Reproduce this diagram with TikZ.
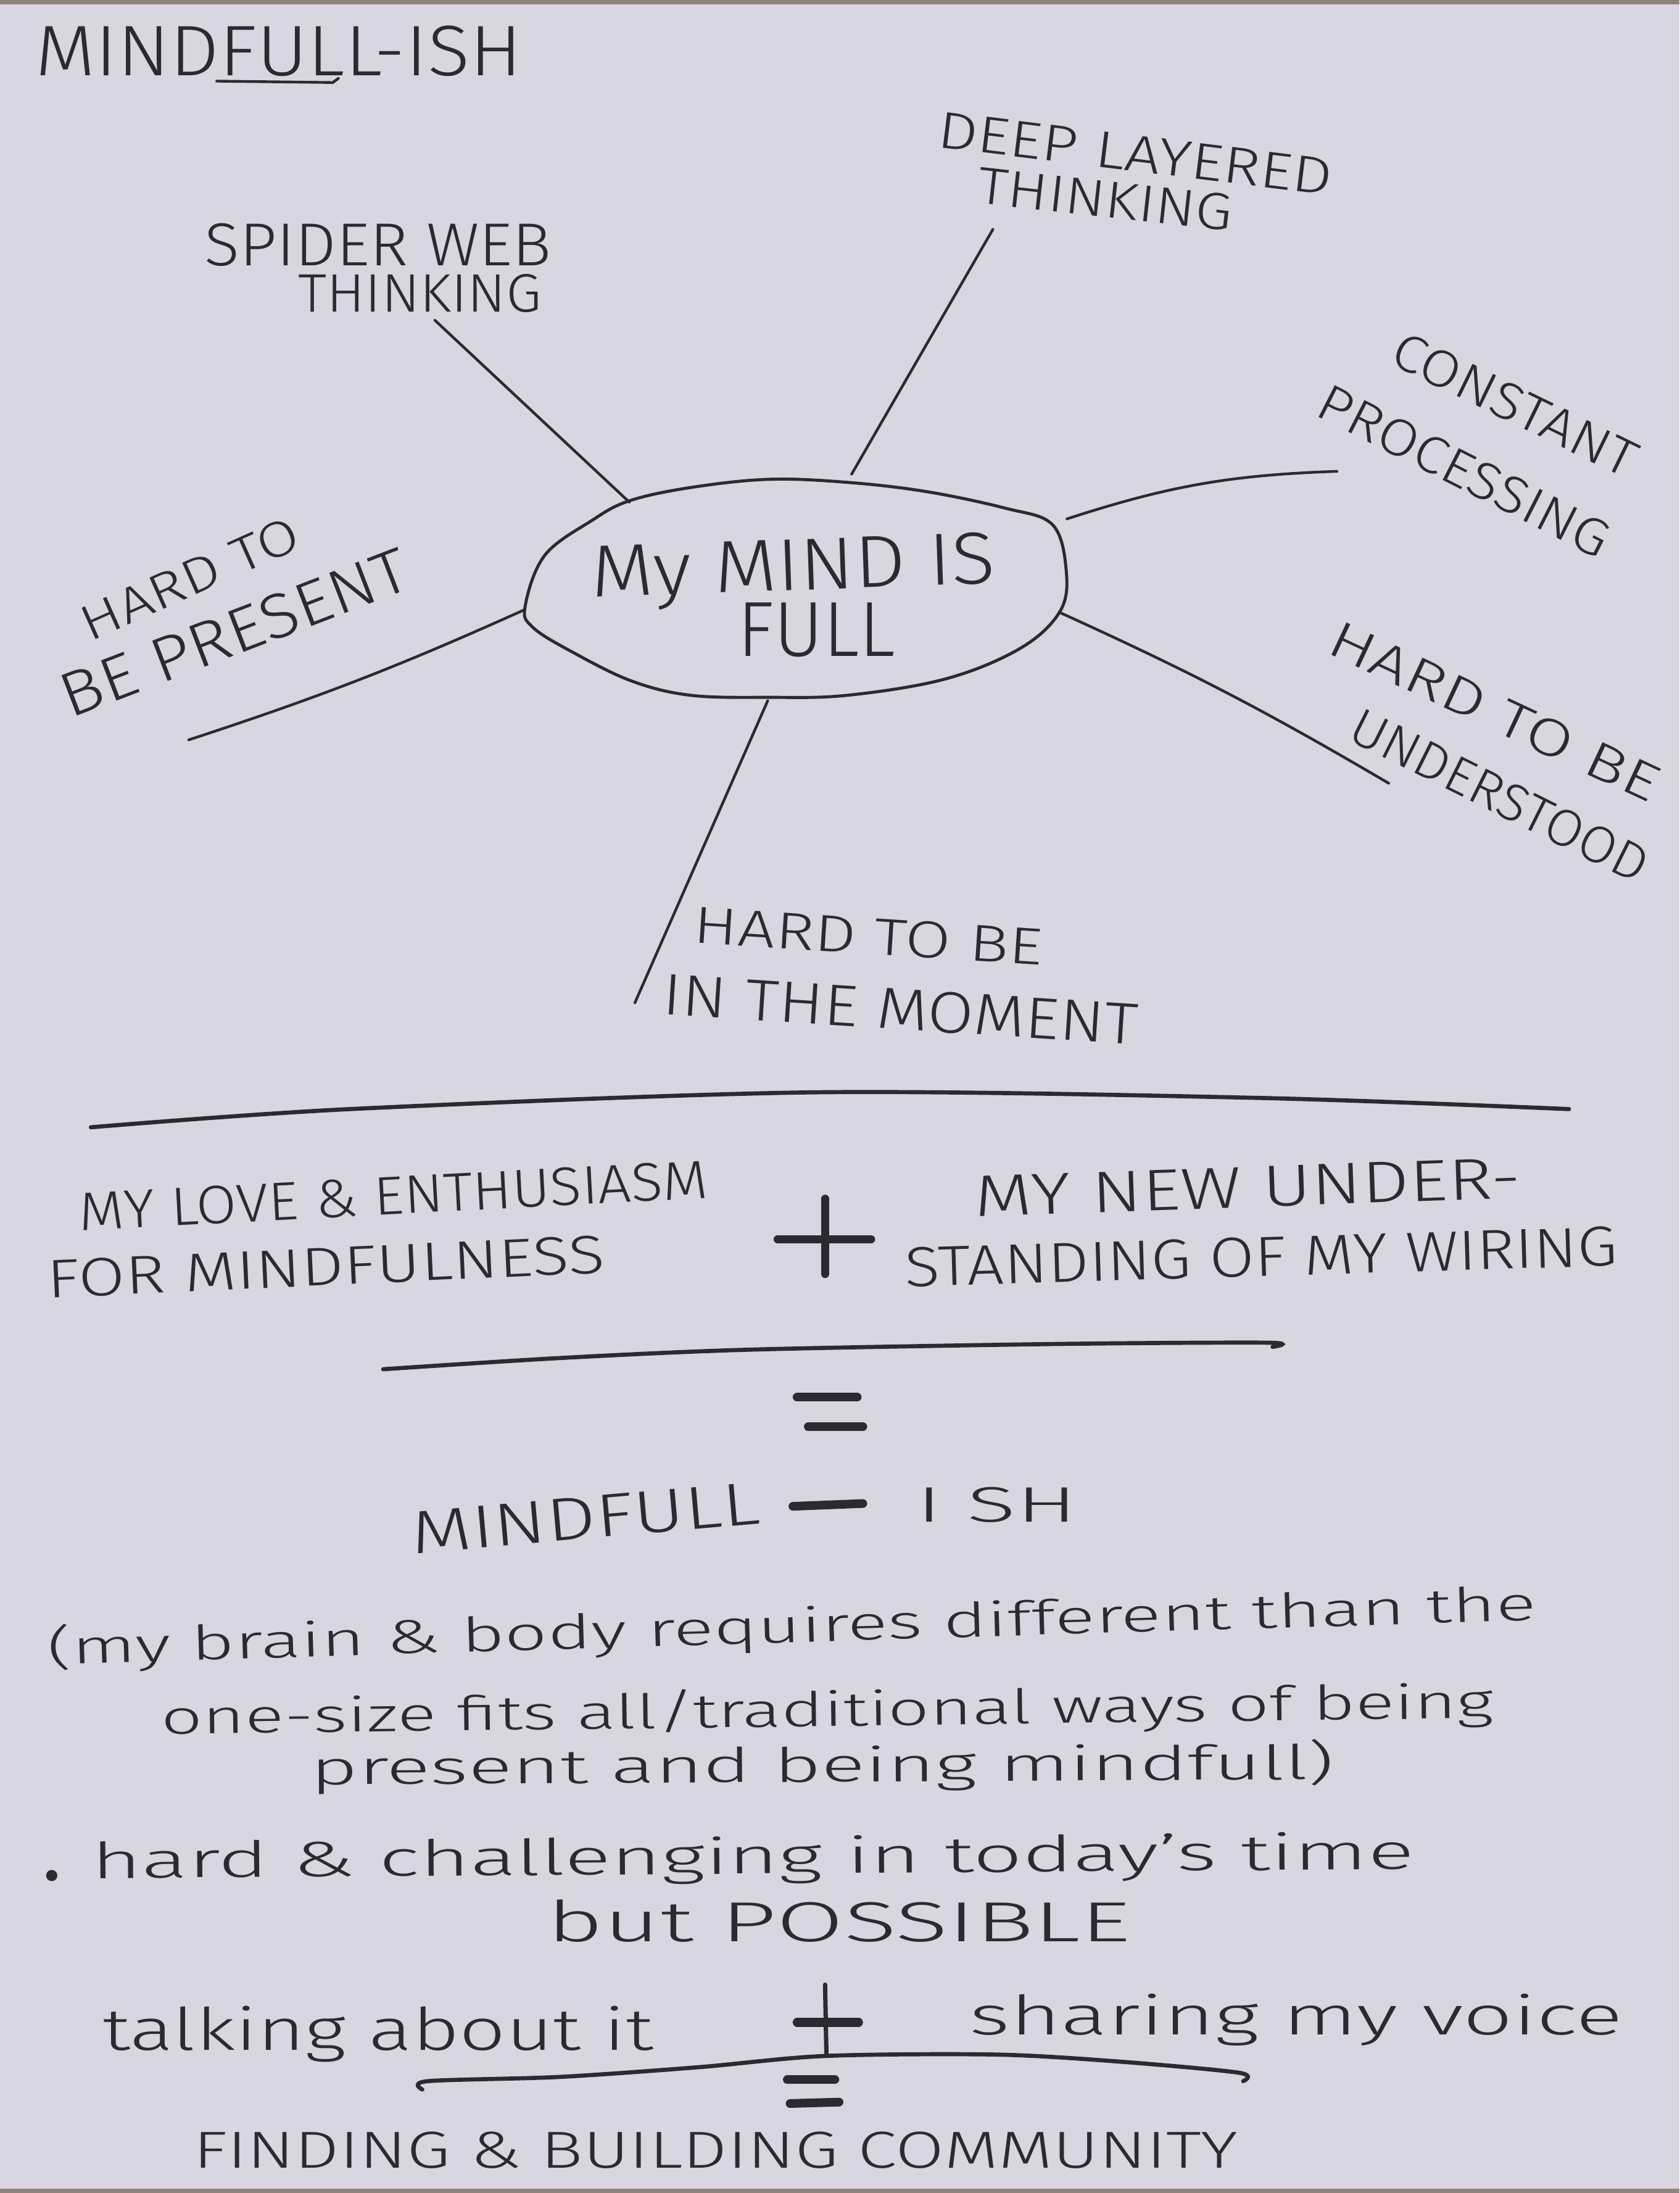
\documentclass[tikz,border=0pt]{standalone}
\usepackage{fontspec}
\setmainfont{Fira Sans}[UprightFont={* Light}]
\usepackage{graphicx}
\newdimen\pxu \pxu=0.6448pt
\newcommand\hw[3]{{\fontsize{#2}{#2}\selectfont\resizebox{#1\pxu}{\height}{#3}}}
\definecolor{paper}{HTML}{D7D6E1}
\definecolor{ink}{HTML}{2D2932}
\definecolor{edge}{HTML}{8E847E}
\begin{document}
\begin{tikzpicture}[x=0.6448pt,y=-0.6448pt,
  lbl/.style={inner sep=0pt, anchor=base west, text=ink},
  pen/.style={draw=ink, line width=1.25pt, line cap=round, line join=round},
  bold/.style={draw=ink, line width=4pt, line cap=round},
  divider/.style={draw=ink, line width=1.9pt, line cap=round}]
\useasboundingbox (0,0) rectangle (1201,1568);
\fill[paper] (0,0) rectangle (1201,1568);
\fill[edge] (0,0) rectangle (1201,3);
\fill[edge] (0,1565) rectangle (1201,1568);

% title
\node[lbl] (title) at (25,54) {\hw{348}{33}{MINDFULL-ISH}};
\draw[pen] (155,58) -- (238,59) -- (242,56);

% central shape
\coordinate (mind) at (568,421);
\draw[pen, line width=1.4pt] plot[smooth cycle, tension=0.6] coordinates {
 (375.5,433.7) (389.5,397.1) (423.3,372.1) (450.0,358.1) (493.7,348.6)
 (549.9,342.7) (606.2,344.9) (662.5,351.5) (718.7,363.3) (752.5,375.0)
 (762.4,407.4) (758.2,436.8) (730.0,463.3) (676.6,485.3) (606.2,497.1)
 (549.9,498.6) (493.7,497.1) (451.4,486.8) (409.3,466.2) (381.1,448.6)};
\node[lbl, rotate=2] (mind1) at (423,427) {\hw{289}{34}{My MIND IS}};
\node[lbl] (mind2) at (527,469) {\hw{113}{36}{FULL}};

% spoke ends
\coordinate (spA) at (450,359);  \coordinate (spB) at (311,229);
\coordinate (dpA) at (609,339);  \coordinate (dpB) at (710,164);
\coordinate (cpA) at (763,371);  \coordinate (cpB) at (956,337);
\coordinate (upA) at (758,438);  \coordinate (upB) at (993,560);
\coordinate (mpA) at (549,501);  \coordinate (mpB) at (454,717);
\coordinate (ppA) at (375,436);  \coordinate (ppB) at (135,529);
\draw[pen] (spA) -- (spB);
\draw[pen] (dpA) -- (dpB);
\draw[pen] (cpA) to[bend left=8] (cpB);
\draw[pen] (upA) to[bend left=3] (upB);
\draw[pen] (mpA) -- (mpB);
\draw[pen] (ppA) to[bend left=3] (ppB);

% spoke labels
\node[lbl] (spl1) at (146,190) {\hw{248}{28}{SPIDER WEB}};
\node[lbl] (spl2) at (213,223) {\hw{174}{25}{THINKING}};
\node[lbl, rotate=-7] (dpl1) at (669,105) {\hw{284}{24}{DEEP LAYERED}};
\node[lbl, rotate=-6.3] (dpl2) at (698,145) {\hw{183}{24}{THINKING}};
\node[lbl, rotate=-26] (cpl1) at (992,259) {\hw{190}{24}{CONSTANT}};
\node[lbl, rotate=-27] (cpl2) at (939,296) {\hw{229}{24}{PROCESSING}};
\node[lbl, rotate=-25] (upl1) at (947,466) {\hw{256}{24}{HARD TO BE}};
\node[lbl, rotate=-26.5] (upl2) at (962,528) {\hw{233}{24}{UNDERSTOOD}};
\node[lbl, rotate=-3.7] (mpl1) at (495,674) {\hw{250}{24}{HARD TO BE}};
\node[lbl, rotate=-3.7] (mpl2) at (473,725) {\hw{340}{27}{IN THE MOMENT}};
\node[lbl, rotate=24] (ppl1) at (64,459) {\hw{167}{23}{HARD TO}};
\node[lbl, rotate=21] (ppl2) at (50,514) {\hw{263}{29}{BE PRESENT}};

% first divider
\draw[divider] plot[smooth, tension=0.5] coordinates {(65,806) (250,793) (582,781) (900,785) (1122,793)};

% equation
\node[lbl, rotate=3] (love1) at (57,880) {\hw{450}{25}{MY LOVE \& ENTHUSIASM}};
\node[lbl, rotate=2.6] (love2) at (34,928) {\hw{399}{25}{FOR MINDFULNESS}};
\node[lbl, rotate=2] (new1) at (697,870) {\hw{391}{27}{MY NEW UNDER-}};
\node[lbl, rotate=1.7] (new2) at (647,920) {\hw{510}{26}{STANDING OF MY WIRING}};
\draw[bold, line width=3.6pt] (590,857) -- (590,911);
\draw[bold, line width=3.6pt] (556,886) -- (623,886);

\draw[divider] plot[smooth, tension=0.5] coordinates {(274,979) (400,971) (536,965) (750,961) (906,960) (910,963)};

\draw[bold] (570,999) -- (613,999);
\draw[bold] (578,1020) -- (617,1020);

\node[lbl, rotate=5] (res1) at (295,1111) {\hw{250}{28}{MINDFULL}};
\draw[bold] (567,1077) -- (617,1075);
\node[lbl] (res2) at (655,1088) {\hw{115}{23}{I SH}};

% explanation
\node[lbl, rotate=1.7] (p1) at (34,1190) {\hw{1065}{22}{(my brain \& body requires different than the}};
\node[lbl, rotate=0.7] (p2) at (115,1240) {\hw{953}{22}{one-size fits all/traditional ways of being}};
\node[lbl, rotate=0.3] (p3) at (222,1276) {\hw{732}{22}{present and being mindfull)}};
\fill[ink] (37,1341) circle (4);
\node[lbl, rotate=0.4] (p4) at (65,1343) {\hw{946}{23}{hard \& challenging in today's time}};
\node[lbl] (p5) at (391,1388) {\hw{417}{26}{but POSSIBLE}};

% final equation
\node[lbl] (talk) at (73,1466) {\hw{394}{27}{talking about it}};
\node[lbl] (share) at (693,1455) {\hw{467}{25}{sharing my voice}};
\draw[pen, line width=2pt] (590,1419) -- (591,1470);
\draw[bold] (570,1446) -- (614,1446);
\draw[divider] plot[smooth, tension=0.5] coordinates {(302,1494) (306,1488) (400,1485) (500,1478) (590,1470) (712,1469) (800,1474) (886,1482) (889,1488)};
\draw[bold] (563,1487) -- (597,1487);
\draw[bold] (565,1504) -- (600,1503);
\node[lbl] (find) at (138,1550) {\hw{747}{24}{FINDING \& BUILDING COMMUNITY}};
\end{tikzpicture}
\end{document}
